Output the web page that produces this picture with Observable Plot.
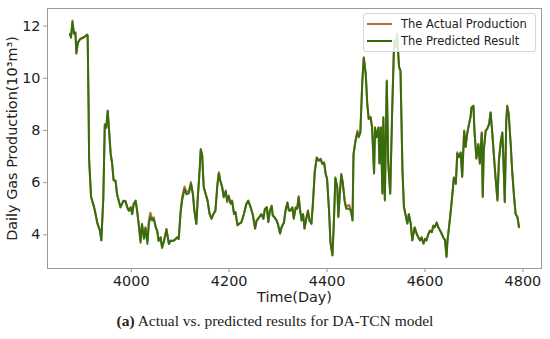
<!DOCTYPE html>
<html><head><meta charset="utf-8">
<script src="https://cdn.jsdelivr.net/npm/d3@7"></script>
<script src="https://cdn.jsdelivr.net/npm/@observablehq/plot@0.6"></script>
<style>
html,body{margin:0;padding:0;background:#fff;}
#wrap{position:relative;width:550px;height:339px;overflow:hidden;}
#legend{position:absolute;left:363px;top:13px;width:173px;height:39px;box-sizing:border-box;border:1px solid #d6d6d6;border-radius:3px;background:rgba(255,255,255,0.85);font-family:"DejaVu Sans";font-size:11.5px;color:#222;}
.row{position:absolute;left:3px;height:14px;display:flex;align-items:center;white-space:nowrap;}
.sw{width:25px;height:2px;margin-right:9px;}
#caption{position:absolute;left:0;width:550px;top:312px;text-align:center;font-family:"Liberation Serif";font-size:15.5px;color:#222;white-space:nowrap;}
</style>
</head><body>
<div id="wrap"><div id="chart"></div><div id="legend"></div><div id="caption"></div></div>
<script>
const seriesNames = ["The Actual Production", "The Predicted Result"];
const seriesColors = ["#a5733f", "#2f6c08"];
const xTicks = [4000, 4200, 4400, 4600, 4800];
const yTicks = [4, 6, 8, 10, 12];
const xLabel = "Time(Day)";
const yLabel = "Daily Gas Production(10³m³)";
const captionBold = "(a)";
const captionText = " Actual vs. predicted results for DA-TCN model";

const days = [3875,3877,3880,3883,3886,3888,3891,3896,3903,3910,3911,3913,3914,3918,3924,3927,3931,3936,3939,3943,3946,3949,3952,3954,3958,3961,3964,3968,3971,3978,3984,3988,3992,3995,3999,4002,4005,4009,4012,4016,4019,4022,4026,4029,4033,4036,4039,4043,4046,4050,4053,4056,4060,4063,4067,4072,4077,4080,4087,4094,4097,4101,4104,4109,4113,4118,4122,4126,4129,4133,4136,4140,4142,4145,4148,4152,4156,4160,4164,4168,4172,4176,4179,4182,4186,4189,4193,4196,4199,4203,4206,4210,4213,4217,4220,4225,4230,4235,4239,4244,4248,4253,4256,4261,4266,4270,4273,4277,4280,4283,4287,4289,4293,4297,4300,4304,4307,4312,4315,4319,4322,4325,4329,4332,4336,4339,4342,4345,4348,4351,4354,4358,4361,4364,4368,4371,4375,4379,4383,4387,4390,4394,4397,4400,4404,4407,4411,4414,4417,4421,4423,4426,4429,4432,4436,4439,4445,4449,4452,4454,4458,4462,4465,4468,4472,4475,4479,4482,4485,4489,4492,4496,4498,4501,4505,4507,4510,4513,4515,4518,4522,4525,4529,4533,4537,4540,4543,4547,4550,4554,4557,4560,4564,4567,4571,4574,4579,4583,4586,4590,4593,4597,4600,4603,4607,4610,4614,4617,4620,4624,4627,4631,4634,4637,4641,4644,4646,4649,4652,4656,4659,4663,4666,4669,4673,4676,4680,4683,4686,4690,4693,4695,4699,4701,4705,4709,4712,4716,4718,4720,4724,4727,4731,4734,4737,4741,4744,4748,4751,4755,4758,4760,4763,4766,4768,4771,4775,4778,4782,4785,4789,4792];

const actual = [11.70,11.57,12.21,11.70,11.76,10.93,11.38,11.51,11.57,11.67,11.64,8.76,6.85,5.44,5.06,4.80,4.42,4.16,3.78,5.44,8.25,8.12,8.76,8.19,7.10,6.72,6.08,6.08,5.57,5.06,5.31,5.31,5.06,4.93,5.06,4.80,5.19,5.31,4.93,4.29,3.78,4.42,3.91,4.29,3.78,4.55,4.85,4.61,4.67,4.29,4.16,3.78,3.91,3.52,3.78,4.23,3.66,3.78,3.78,3.91,3.85,4.93,5.45,5.85,5.63,5.70,6.02,5.57,4.93,4.42,5.44,6.59,7.29,7.04,5.82,5.57,5.31,4.80,4.61,4.80,4.93,5.95,6.40,6.08,5.82,5.44,5.70,5.25,5.51,5.19,5.31,4.80,4.87,4.36,4.42,4.48,4.80,5.19,5.31,5.06,4.80,4.23,4.55,4.67,4.80,4.61,5.00,5.06,4.48,4.93,5.12,4.74,4.67,4.55,4.36,4.04,4.29,4.48,4.93,5.25,4.93,4.93,5.06,4.61,5.06,5.00,5.48,4.93,4.55,4.80,4.23,4.67,4.93,4.55,4.42,5.19,6.46,6.97,6.85,6.91,6.72,6.78,6.34,6.15,4.93,3.66,3.21,4.55,6.21,5.82,4.67,5.57,6.34,6.02,5.31,5.06,5.15,4.93,4.55,7.10,7.61,8.00,7.80,7.93,9.91,10.80,10.17,9.02,8.44,8.51,8.12,6.34,8.12,7.74,8.12,6.72,8.12,5.57,8.51,5.31,9.91,6.72,5.57,8.76,11.44,11.19,11.70,10.42,10.29,6.46,5.06,4.80,4.42,4.80,4.42,3.78,4.29,4.04,3.91,3.78,3.91,3.66,3.85,3.78,4.04,4.16,4.10,4.36,4.29,4.48,4.29,4.16,4.04,3.91,3.78,3.14,3.78,4.29,4.80,5.57,6.21,5.95,7.16,6.97,7.16,6.21,8.00,7.36,7.87,8.25,8.51,8.89,8.95,8.00,6.91,7.49,6.72,7.93,5.44,7.23,8.00,8.06,8.25,8.70,8.00,6.97,6.21,5.31,6.85,7.61,7.93,6.97,5.25,8.38,8.95,8.64,7.49,6.46,5.44,4.80,4.67,4.29];

const predicted = [11.68,11.55,12.15,11.72,11.74,10.98,11.35,11.50,11.56,11.66,11.62,8.80,6.90,5.46,5.08,4.82,4.44,4.18,3.80,5.40,8.20,8.10,8.74,8.20,7.12,6.74,6.10,6.06,5.55,5.05,5.30,5.29,5.05,4.92,5.05,4.79,5.17,5.30,4.92,4.30,3.70,4.40,3.85,4.25,3.65,4.40,4.67,4.55,4.62,4.30,4.15,3.76,3.90,3.50,3.76,4.20,3.65,3.76,3.77,3.90,3.84,4.88,5.31,5.75,5.55,5.60,5.95,5.55,4.92,4.42,5.40,6.55,7.27,7.05,5.84,5.56,5.30,4.80,4.62,4.80,4.92,5.90,6.35,6.06,5.80,5.45,5.66,5.30,5.48,5.20,5.30,4.80,4.86,4.38,4.42,4.48,4.78,5.16,5.30,5.05,4.80,4.25,4.53,4.66,4.78,4.62,4.98,5.05,4.50,4.90,5.10,4.75,4.66,4.55,4.40,4.06,4.28,4.47,4.90,5.22,4.94,4.92,5.04,4.63,5.04,5.00,5.44,4.94,4.56,4.78,4.25,4.66,4.92,4.56,4.43,5.15,6.42,6.95,6.84,6.90,6.72,6.76,6.35,6.14,4.96,3.70,3.22,4.52,6.17,5.80,4.70,5.55,6.30,6.00,5.28,5.00,5.00,4.90,4.56,7.05,7.58,7.90,7.74,7.92,9.86,10.78,10.18,9.05,8.45,8.50,8.10,6.38,8.10,7.74,8.10,6.75,8.10,5.60,8.48,5.34,9.88,6.75,5.58,8.72,11.40,11.20,11.68,10.44,10.28,6.50,5.08,4.80,4.44,4.78,4.43,3.80,4.27,4.05,3.92,3.79,3.90,3.67,3.84,3.79,4.03,4.15,4.10,4.35,4.29,4.46,4.30,4.16,4.05,3.92,3.79,3.18,3.80,4.28,4.78,5.55,6.18,5.96,7.12,6.98,7.14,6.24,7.96,7.38,7.85,8.24,8.50,8.86,8.93,8.02,6.94,7.46,6.75,7.90,5.48,7.20,7.98,8.05,8.24,8.68,8.02,7.00,6.23,5.34,6.82,7.58,7.90,7.00,5.28,8.34,8.92,8.62,7.50,6.48,5.46,4.82,4.66,4.30];

const data = days.map((d, i) => ({day: d, actual: actual[i], predicted: predicted[i]}));

const chart = Plot.plot({
  width: 550, height: 312,
  marginLeft: 47, marginRight: 9, marginTop: 8, marginBottom: 44,
  style: {fontFamily: "DejaVu Sans", fontSize: "14.4px", color: "#222", background: "transparent"},
  x: {domain: [3829, 4838]},
  y: {domain: [2.71, 12.67]},
  marks: [
    Plot.axisX(xTicks, {tickSize: 4, tickPadding: 3, fontSize: 14.4, stroke: "#999", fill: "#222", label: null, tickFormat: d => String(d)}),
    Plot.axisY(yTicks, {tickSize: 4, tickPadding: 3, fontSize: 14.4, stroke: "#999", fill: "#222", label: null, tickFormat: d => String(d)}),
    Plot.line(data, {x: "day", y: "actual", stroke: seriesColors[0], strokeWidth: 2}),
    Plot.line(data, {x: "day", y: "predicted", stroke: seriesColors[1], strokeWidth: 2, strokeOpacity: 0.92}),
    Plot.frame({stroke: "#9a9a9a"}),
    Plot.text([xLabel], {frameAnchor: "bottom", textAnchor: "middle", dy: 33, fontSize: 14.4, fill: "#222"}),
    Plot.text([yLabel], {frameAnchor: "left", textAnchor: "middle", rotate: -90, dx: -35, fontSize: 14.4, fill: "#222"})
  ]
});
document.getElementById("chart").appendChild(chart);

const legend = document.getElementById("legend");
seriesNames.forEach((name, i) => {
  const row = document.createElement("div");
  row.className = "row";
  row.style.top = (3 + i * 17.4) + "px";
  const sw = document.createElement("span");
  sw.className = "sw";
  sw.style.background = seriesColors[i];
  const t = document.createElement("span");
  t.textContent = name;
  row.appendChild(sw); row.appendChild(t);
  legend.appendChild(row);
});

const cap = document.getElementById("caption");
const b = document.createElement("b"); b.textContent = captionBold;
cap.appendChild(b);
cap.appendChild(document.createTextNode(captionText));
</script>
</body></html>
